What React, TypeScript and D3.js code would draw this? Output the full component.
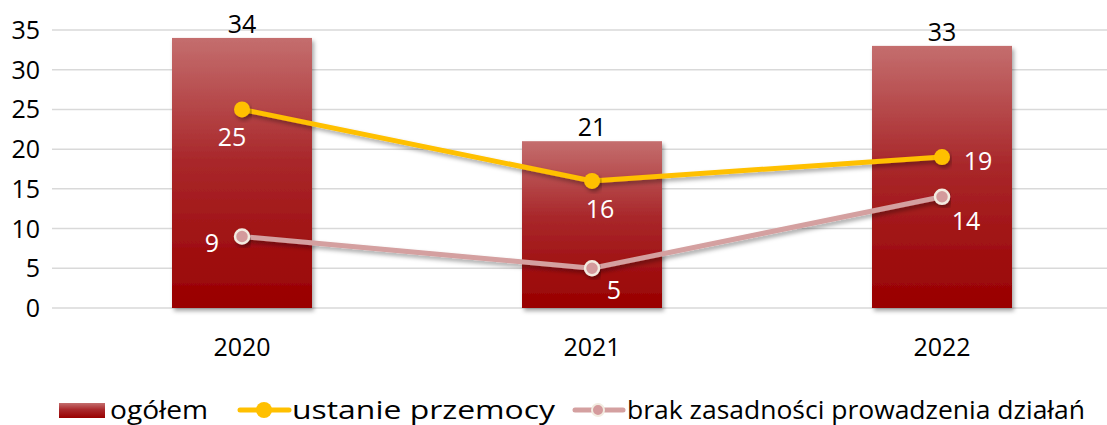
import React from 'react';
import * as d3 from 'd3';

const years = ['2020', '2021', '2022'];
const ogolem = [34, 21, 33];
const ustanie = [25, 16, 19];
const brak = [9, 5, 14];
const yTicks = [0, 5, 10, 15, 20, 25, 30, 35];
const legendLabels = ['ogółem', 'ustanie przemocy', 'brak zasadności prowadzenia działań'];

const W = 1107;
const H = 425;
const font = 'Open Sans, sans-serif';

const App = () => {
  const x = d3.scaleBand().domain(years).range([67, 1117]).paddingInner(0.6).paddingOuter(0.3);
  const y = d3.scaleLinear().domain([0, 35]).range([308, 30]);
  const cx = (d: string) => (x(d) as number) + x.bandwidth() / 2;

  const line = d3.line<number>().x((_, i) => cx(years[i])).y(v => y(v));

  // label offsets per point: [dx, dy]
  const ustOff = [[-10, 28], [8, 28], [36, 4]];
  const brakOff = [[-30, 6], [22, 22], [24, 24]];

  return (
    <svg width={W} height={H} style={{ display: 'block', position: 'absolute', left: 0, top: 0 }}>
      <defs>
        <linearGradient id="barGrad" x1="0" y1="0" x2="0" y2="1">
          <stop offset="0%" stopColor="#c46e6e" />
          <stop offset="45%" stopColor="#a9282b" />
          <stop offset="100%" stopColor="#990000" />
        </linearGradient>
        <filter id="shadow" x="-10%" y="-30%" width="120%" height="160%">
          <feDropShadow dx="2" dy="3" stdDeviation="2" floodColor="#000" floodOpacity="0.35" />
        </filter>
      </defs>
      <rect width={W} height={H} fill="#fff" />
      {yTicks.map(t => (
        <g key={t}>
          <line x1={52} x2={W} y1={y(t)} y2={y(t)} stroke="#d9d9d9" strokeWidth={1.5} />
          <text x={40} y={y(t)} dy="0.36em" textAnchor="end" fontFamily={font} fontSize={25} fill="#000">{t}</text>
        </g>
      ))}
      {years.map((yr, i) => (
        <g key={yr}>
          <rect x={x(yr)} y={y(ogolem[i])} width={x.bandwidth()} height={y(0) - y(ogolem[i])} fill="url(#barGrad)" filter="url(#shadow)" />
          <text x={cx(yr)} y={y(ogolem[i]) - 5} textAnchor="middle" fontFamily={font} fontSize={25} fill="#000">{ogolem[i]}</text>
          <text x={cx(yr)} y={347} dy="0.36em" textAnchor="middle" fontFamily={font} fontSize={25} fill="#000">{yr}</text>
        </g>
      ))}
      <path d={line(brak) || ''} fill="none" stroke="#d4a0a0" strokeWidth={5} filter="url(#shadow)" />
      <path d={line(ustanie) || ''} fill="none" stroke="#ffc000" strokeWidth={5} filter="url(#shadow)" />
      {years.map((yr, i) => (
        <g key={'m' + yr}>
          <circle cx={cx(yr)} cy={y(ustanie[i])} r={8} fill="#ffc000" filter="url(#shadow)" />
          <circle cx={cx(yr)} cy={y(brak[i])} r={7} fill="#d49a9c" stroke="#f2ebe0" strokeWidth={2.5} filter="url(#shadow)" />
          <text x={cx(yr) + ustOff[i][0]} y={y(ustanie[i]) + ustOff[i][1]} dy="0.36em" textAnchor="middle" fontFamily={font} fontSize={25} fill="#fff">{ustanie[i]}</text>
          <text x={cx(yr) + brakOff[i][0]} y={y(brak[i]) + brakOff[i][1]} dy="0.36em" textAnchor="middle" fontFamily={font} fontSize={25} fill="#fff">{brak[i]}</text>
        </g>
      ))}
      {/* legend */}
      <g>
        <rect x={59} y={403} width={46} height={15} fill="url(#barGrad)" />
        <text x={110} y={410} dy="0.36em" fontFamily={font} fontSize={25} fill="#000" textLength={98} lengthAdjust="spacingAndGlyphs">{legendLabels[0]}</text>
        <line x1={240} x2={289} y1={410} y2={410} stroke="#ffc000" strokeWidth={5} strokeLinecap="round" />
        <circle cx={264} cy={410} r={8} fill="#ffc000" />
        <text x={292} y={410} dy="0.36em" fontFamily={font} fontSize={25} fill="#000" textLength={263} lengthAdjust="spacingAndGlyphs">{legendLabels[1]}</text>
        <line x1={575} x2={623} y1={410} y2={410} stroke="#d4a0a0" strokeWidth={5} strokeLinecap="round" />
        <circle cx={598} cy={410} r={6} fill="#d49a9c" stroke="#f2ebe0" strokeWidth={2} />
        <text x={627} y={410} dy="0.36em" fontFamily={font} fontSize={25} fill="#000" textLength={458} lengthAdjust="spacingAndGlyphs">{legendLabels[2]}</text>
      </g>
    </svg>
  );
};

export default App;
